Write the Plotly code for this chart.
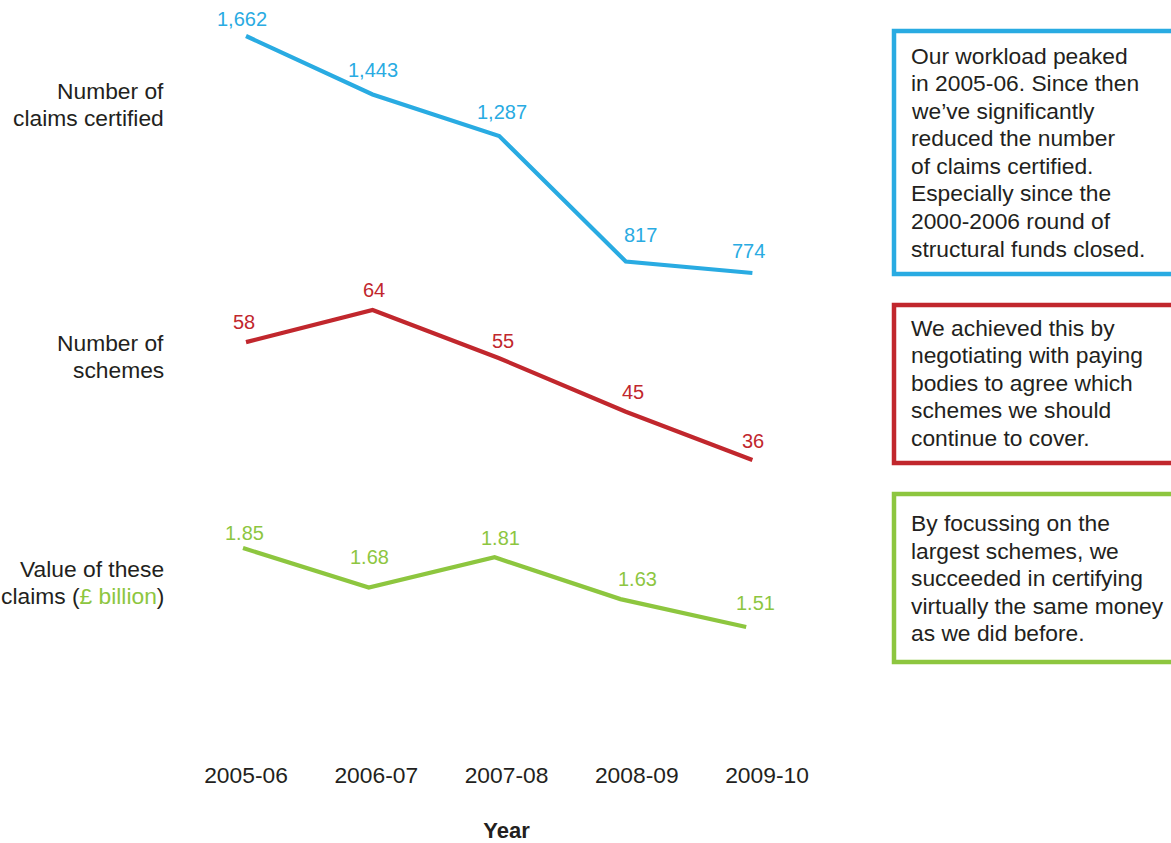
import plotly.graph_objects as go

W, H = 1171, 843

# ---- data -------------------------------------------------------------
years = ["2005-06", "2006-07", "2007-08", "2008-09", "2009-10"]
claims_certified = [1662, 1443, 1287, 817, 774]
schemes = [58, 64, 55, 45, 36]
claims_value = [1.85, 1.68, 1.81, 1.63, 1.51]

claims_labels = ["1,662", "1,443", "1,287", "817", "774"]
schemes_labels = ["58", "64", "55", "45", "36"]
value_labels = ["1.85", "1.68", "1.81", "1.63", "1.51"]

row_titles = [
    ["Number of", "claims certified"],
    ["Number of", "schemes"],
    ["Value of these", "claims (£ billion)"],
]

notes = [
    ["Our workload peaked", "in 2005-06. Since then", "we’ve significantly",
     "reduced the number", "of claims certified.", "Especially since the",
     "2000-2006 round of", "structural funds closed."],
    ["We achieved this by", "negotiating with paying", "bodies to agree which",
     "schemes we should", "continue to cover."],
    ["By focussing on the", "largest schemes, we", "succeeded in certifying",
     "virtually the same money", "as we did before."],
]

# ---- styling ----------------------------------------------------------
BLUE = "#29ABE2"
RED = "#C1272D"
GREEN = "#8DC63F"
INK = "#231F20"
FONT = "Liberation Sans, Arial, sans-serif"
TEXT_SIZE = 22.8
VALUE_SIZE = 20
LINE_STEP = 27.5

# label offsets (px) relative to each point: (dx, dy up)
claims_off = [(-4, 17), (0, 24.5), (3, 24), (15, 27), (-4, 22)]
schemes_off = [(-2, 20), (1, 20), (4, 17), (7, 20), (1, 19)]
value_off = [(1, 15), (1, 30), (6, 19), (17, 20), (9, 24)]


def px_x(p):
    return p / W


def px_y(p):
    return 1 - p / H


def axis_domain_x(i0_px, step_px, lo, hi):
    """x domain (paper) so that index 0 sits at i0_px and each step is step_px."""
    return [px_x(i0_px + lo * step_px), px_x(i0_px + hi * step_px)]


def axis_domain_y(v1, p1, v2, p2, lo, hi):
    """y domain (paper) so that value v1 lands at pixel row p1 and v2 at p2."""
    k = (p2 - p1) / (v2 - v1)
    top = p1 + (hi - v1) * k
    bot = p1 + (lo - v1) * k
    return [px_y(bot), px_y(top)]


xlo, xhi = -0.2, 4.2
idx = list(range(len(years)))

fig = go.Figure()

series = [
    (claims_certified, BLUE, "x", "y", claims_labels, claims_off),
    (schemes, RED, "x", "y2", schemes_labels, schemes_off),
    (claims_value, GREEN, "x2", "y3", value_labels, value_off),
]

for vals, col, xa, ya, labs, offs in series:
    fig.add_trace(go.Scatter(
        x=idx, y=vals, mode="lines", xaxis=xa, yaxis=ya,
        line=dict(color=col, width=4.2), hoverinfo="skip", showlegend=False,
    ))
    for i, (v, t, (dx, dy)) in enumerate(zip(vals, labs, offs)):
        fig.add_annotation(
            x=i, y=v, xref=xa, yref=ya, text=t, showarrow=False,
            xshift=dx, yshift=dy, font=dict(family=FONT, size=VALUE_SIZE, color=col),
        )

# category axis carrying the year labels
fig.add_trace(go.Scatter(
    x=years, y=[0] * len(years), xaxis="x3", yaxis="y4", mode="markers",
    marker=dict(opacity=0), hoverinfo="skip", showlegend=False,
))

hidden = dict(visible=False, fixedrange=True, automargin=False)

fig.update_layout(
    template="none",
    width=W, height=H,
    margin=dict(l=0, r=0, t=0, b=0, pad=0, autoexpand=False),
    paper_bgcolor="white", plot_bgcolor="rgba(0,0,0,0)",
    xaxis=dict(range=[xlo, xhi], domain=axis_domain_x(246, 126.6, xlo, xhi),
               anchor="y", **hidden),
    xaxis2=dict(range=[xlo, xhi], domain=axis_domain_x(243, 125.8, xlo, xhi),
                anchor="y3", **hidden),
    xaxis3=dict(type="category", range=[xlo, xhi],
                domain=axis_domain_x(246, 130.25, xlo, xhi),
                anchor="free", position=px_y(759), showline=False,
                showgrid=False, zeroline=False, ticks="", automargin=False,
                fixedrange=True,
                tickfont=dict(family=FONT, size=TEXT_SIZE, color=INK),
                title=dict(text="<b>Year</b>", standoff=36,
                           font=dict(family=FONT, size=22, color=INK))),
    yaxis=dict(range=[700, 1730],
               domain=axis_domain_y(1662, 36, 774, 273, 700, 1730),
               anchor="x", **hidden),
    yaxis2=dict(range=[30, 70],
                domain=axis_domain_y(64, 310, 36, 460, 30, 70),
                anchor="x", **hidden),
    yaxis3=dict(range=[1.40, 1.92],
                domain=axis_domain_y(1.85, 548, 1.51, 627, 1.40, 1.92),
                anchor="x2", **hidden),
    yaxis4=dict(range=[0, 1], domain=[px_y(780), px_y(700)],
                anchor="x3", **hidden),
)

# row titles, one annotation per line
row_tops = [91, 343, 568.5]
for lines, top in zip(row_titles, row_tops):
    for k, line in enumerate(lines):
        txt = line.replace("£ billion", "<span style='color:%s'>£ billion</span>" % GREEN)
        fig.add_annotation(
            x=px_x(166), y=px_y(top + k * 27.3), xref="paper", yref="paper",
            text=txt, showarrow=False, xanchor="right", yanchor="middle",
            align="right", font=dict(family=FONT, size=TEXT_SIZE, color=INK),
        )

# commentary boxes
box_colors = [BLUE, RED, GREEN]
box_edges = [(31, 274), (305, 463), (494, 662)]
first_line = [56, 327.5, 523]
for col, (top, bot), y0, lines in zip(box_colors, box_edges, first_line, notes):
    fig.add_shape(
        type="rect", xref="paper", yref="paper",
        x0=px_x(894), x1=px_x(1190), y0=px_y(bot), y1=px_y(top),
        line=dict(color=col, width=4.5), fillcolor="white", layer="below",
    )
    for k, line in enumerate(lines):
        fig.add_annotation(
            x=px_x(909), y=px_y(y0 + k * LINE_STEP), xref="paper", yref="paper",
            text=line, showarrow=False, xanchor="left", yanchor="middle",
            align="left", font=dict(family=FONT, size=TEXT_SIZE, color=INK),
        )

fig.write_html("out.html")
